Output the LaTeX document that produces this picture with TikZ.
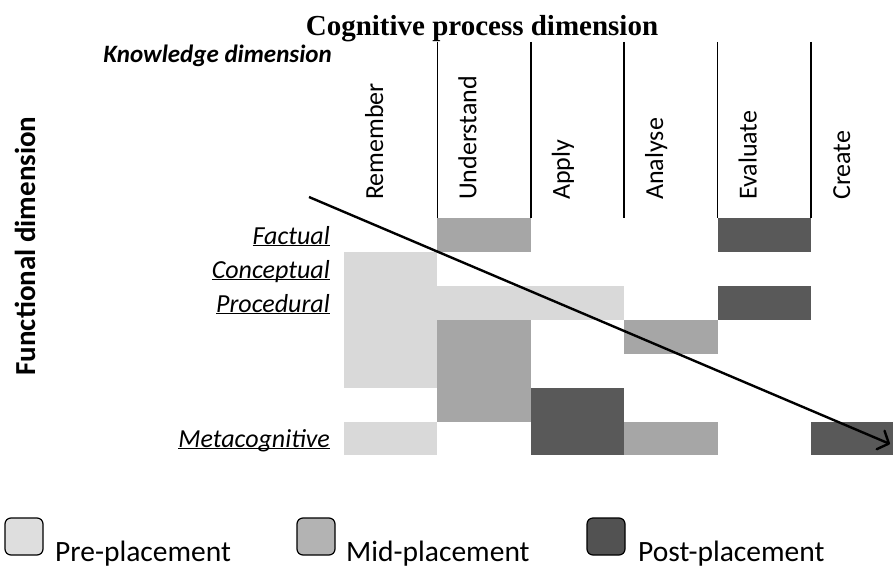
\documentclass[tikz,border=0pt]{standalone}
\usepackage{fontspec}
\setmainfont{Carlito}
\newfontfamily\timesfont{Liberation Serif}
\usetikzlibrary{arrows.meta}
\definecolor{prefill}{HTML}{D9D9D9}
\definecolor{midfill}{HTML}{A6A6A6}
\definecolor{postfill}{HTML}{595959}
\definecolor{prekey}{HTML}{DEDEDE}
\definecolor{midkey}{HTML}{B3B3B3}
\definecolor{postkey}{HTML}{525252}

\begin{document}
\begin{tikzpicture}[x=1pt,y=-1pt,
   collabel/.style={rotate=90,anchor=base west,inner sep=0pt,font=\fontsize{26}{30}\selectfont},
   rowlabel/.style={anchor=base east,inner sep=0pt,font=\itshape\fontsize{26}{30}\selectfont},
   keybox/.style={draw=black,line width=1.2pt,rounded corners=6pt,minimum width=38pt,minimum height=37pt,inner sep=0pt},
   keytext/.style={anchor=base west,inner sep=0pt,font=\fontsize{29.5}{33}\selectfont},
   divider/.style={line width=1.5pt},
   trend/.style={line width=2.4pt,-{Straight Barb[length=9pt,width=20pt,round]}}]
   \useasboundingbox (0,0) rectangle (893,567);

   \node[anchor=base,inner sep=0pt,font=\timesfont\bfseries\fontsize{29}{33}\selectfont] (title) at (482,35.5) {Cognitive process dimension};
   \node[anchor=base east,inner sep=0pt,font=\bfseries\itshape\fontsize{25}{30}\selectfont] (knowledge) at (332,63) {Knowledge dimension};
   \node[rotate=90,anchor=base,inner sep=0pt,font=\bfseries\fontsize{29}{33}\selectfont] (functional) at (35,246) {Functional dimension};

   \node[collabel] (remember) at (383,200) {Remember};
   \node[collabel] (understand) at (476.4,200) {Understand};
   \node[collabel] (apply) at (569.8,200) {Apply};
   \node[collabel] (analyse) at (663.2,200) {Analyse};
   \node[collabel] (evaluate) at (756.6,200) {Evaluate};
   \node[collabel] (create) at (850,200) {Create};

   \draw[divider] (437.4,42) -- (437.4,218);
   \draw[divider] (530.8,42) -- (530.8,218);
   \draw[divider] (624.2,42) -- (624.2,218);
   \draw[divider] (717.6,42) -- (717.6,218);
   \draw[divider] (811,42) -- (811,218);

   \node[rowlabel] (factual) at (330,244) {\underline{\smash{Factual}}};
   \node[rowlabel] (conceptual) at (330,278) {\underline{\smash{Conceptual}}};
   \node[rowlabel] (procedural) at (330,312) {\underline{\smash{Procedural}}};
   \node[rowlabel] (metacognitive) at (330,447) {\underline{\smash{Metacognitive}}};

   \fill[midfill] (437.4,218) rectangle (530.8,252);
   \fill[postfill] (717.6,218) rectangle (811,252);
   \fill[prefill] (344,252) rectangle (437.4,388);
   \fill[prefill] (437.4,286) rectangle (624.2,320);
   \fill[postfill] (717.6,286) rectangle (811,320);
   \fill[midfill] (437.4,320) rectangle (530.8,421.5);
   \fill[midfill] (624.2,320) rectangle (717.6,354);
   \fill[postfill] (530.8,388) rectangle (624.2,455);
   \fill[prefill] (344,421.5) rectangle (437.4,455);
   \fill[midfill] (624.2,421.5) rectangle (717.6,455);
   \fill[postfill] (811,421.5) rectangle (893,455);

   \coordinate (trendstart) at (309,197);
   \coordinate (trendend) at (890,444);
   \path (trendstart) edge[trend] (trendend);

   \node[keybox,fill=prekey] (prebox) at (24,536.5) {};
   \node[keytext] (pretext) at (55,561) {Pre-placement};
   \node[keybox,fill=midkey] (midbox) at (316,536.5) {};
   \node[keytext] (midtext) at (346,561) {Mid-placement};
   \node[keybox,fill=postkey] (postbox) at (606,536.5) {};
   \node[keytext] (posttext) at (638,561) {Post-placement};
\end{tikzpicture}
\end{document}
